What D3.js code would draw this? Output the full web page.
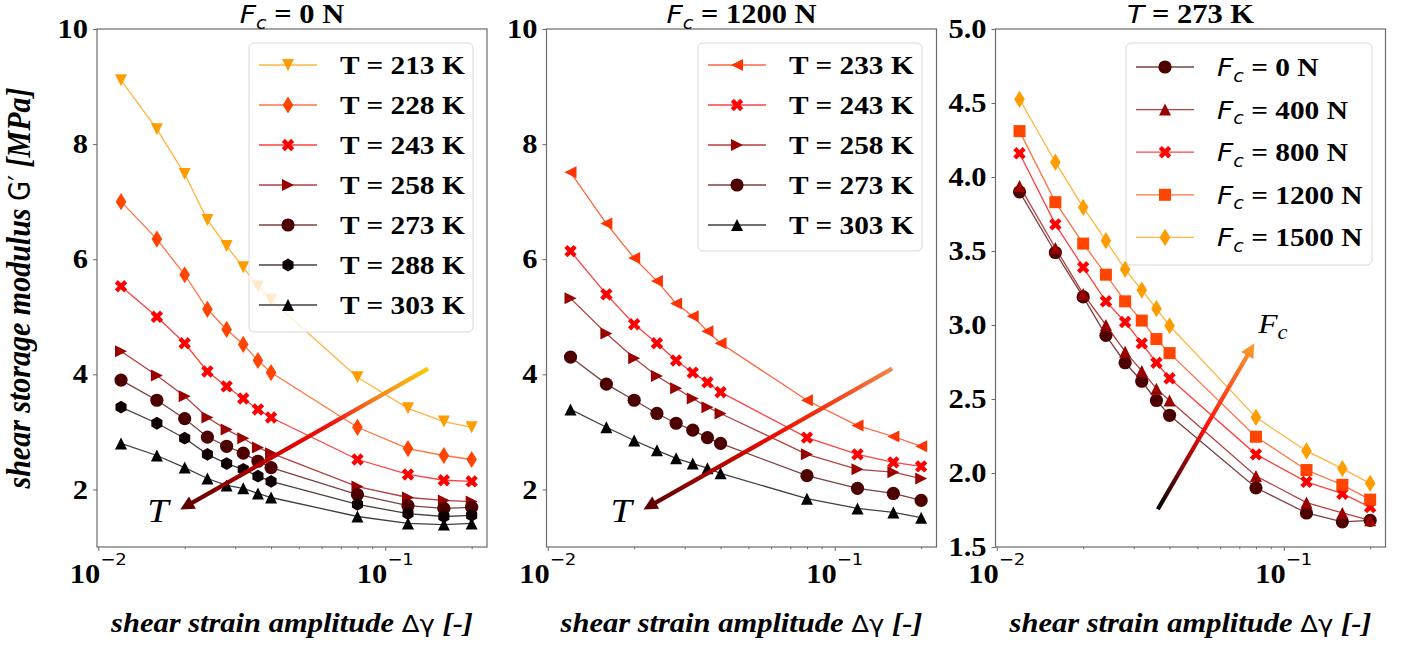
<!DOCTYPE html>
<html><head><meta charset="utf-8">
<script src="https://cdn.jsdelivr.net/npm/d3@7"></script>
<style>body{margin:0;background:#fff}svg{display:block}</style>
</head><body><svg id="chart" width="1408" height="649"></svg>
<script>
// ---------------- DATA ----------------
const strain = [0.012, 0.016, 0.02, 0.024, 0.028, 0.032, 0.036, 0.04, 0.08, 0.12, 0.16, 0.2];

// Panel 1: Fc = 0 N (G' in MPa)
const p1_T213 = [9.11, 8.26, 7.48, 6.68, 6.23, 5.86, 5.53, 5.29, 3.95, 3.41, 3.18, 3.08];
const p1_T228 = [7.00, 6.35, 5.73, 5.13, 4.78, 4.52, 4.24, 4.03, 3.08, 2.71, 2.59, 2.52];
const p1_T243 = [5.53, 5.00, 4.54, 4.05, 3.79, 3.58, 3.39, 3.25, 2.52, 2.26, 2.16, 2.14];
const p1_T258 = [4.40, 3.98, 3.62, 3.25, 3.04, 2.89, 2.73, 2.63, 2.05, 1.86, 1.81, 1.79];
const p1_T273 = [3.90, 3.55, 3.23, 2.91, 2.75, 2.63, 2.49, 2.38, 1.91, 1.72, 1.67, 1.69];
const p1_T288 = [3.43, 3.15, 2.89, 2.61, 2.45, 2.35, 2.23, 2.14, 1.74, 1.58, 1.53, 1.55];
const p1_T303 = [2.80, 2.59, 2.38, 2.19, 2.07, 2.02, 1.93, 1.86, 1.53, 1.41, 1.39, 1.41];
const p1_labels = ["T = 213 K", "T = 228 K", "T = 243 K", "T = 258 K", "T = 273 K", "T = 288 K", "T = 303 K"];

// Panel 2: Fc = 1200 N
const p2_T233 = [7.51, 6.62, 6.02, 5.62, 5.23, 5.01, 4.75, 4.54, 3.55, 3.11, 2.92, 2.75];
const p2_T243 = [6.14, 5.39, 4.87, 4.54, 4.24, 4.03, 3.86, 3.69, 2.90, 2.61, 2.47, 2.40];
const p2_T258 = [5.32, 4.71, 4.28, 3.97, 3.76, 3.58, 3.43, 3.32, 2.61, 2.35, 2.30, 2.19];
const p2_T273 = [4.30, 3.83, 3.55, 3.32, 3.15, 3.03, 2.90, 2.80, 2.24, 2.02, 1.93, 1.81];
const p2_T303 = [3.39, 3.08, 2.85, 2.68, 2.54, 2.45, 2.37, 2.28, 1.84, 1.67, 1.60, 1.51];
const p2_labels = ["T = 233 K", "T = 243 K", "T = 258 K", "T = 273 K", "T = 303 K"];

// Panel 3: T = 273 K
const p3_F0    = [3.90, 3.49, 3.19, 2.93, 2.745, 2.62, 2.49, 2.39, 1.90, 1.73, 1.67, 1.68];
const p3_F400  = [3.94, 3.52, 3.21, 3.00, 2.82, 2.69, 2.57, 2.49, 1.98, 1.80, 1.73, 1.68];
const p3_F800  = [4.16, 3.68, 3.39, 3.16, 3.02, 2.876, 2.745, 2.64, 2.126, 1.94, 1.86, 1.77];
const p3_F1200 = [4.31, 3.83, 3.55, 3.34, 3.16, 3.03, 2.905, 2.81, 2.245, 2.02, 1.92, 1.82];
const p3_F1500 = [4.525, 4.10, 3.795, 3.57, 3.376, 3.236, 3.11, 2.995, 2.376, 2.149, 2.03, 1.93];
const p3_labels = ["0 N", "400 N", "800 N", "1200 N", "1500 N"];

const yTicks12 = [2, 4, 6, 8, 10];
const yTicks3 = [1.5, 2.0, 2.5, 3.0, 3.5, 4.0, 4.5, 5.0];
const xMajorTicks = [0.01, 0.1];
const xMajorExp = ["\u22122", "\u22121"];
const xMinorTicks = [0.02, 0.03, 0.04, 0.05, 0.06, 0.07, 0.08, 0.09, 0.2];
const titles = ["0 N", "1200 N", "273 K"];

// ---------------- LAYOUT / STYLE ----------------
const svg = d3.select("#chart");
const SERIF = "'Liberation Serif','Times New Roman',serif";
const SANS = "'DejaVu Sans',sans-serif";
const SX = 1.13; // horizontal stretch of the glyphs in the original figure
const TOP = 29, PW = 390, PH = 518;
const LEFTS = [97, 546.5, 995.5];
const xDomain = [0.009896, 0.2262];
const C = {orange:"#ff9c00", orangered:"#ff4500", red:"#ff0000", red2:"#ff3300", dred:"#9a0000", maroon:"#4d0000", nblack:"#0e0000", black:"#000000"};

function stext(parent, x, y, anchor) {
  return parent.append("text").attr("transform", `translate(${x},${y}) scale(${SX},1)`)
    .attr("text-anchor", anchor || "start");
}

function markerPath(type) {
  const r = 6;
  switch (type) {
    case "circle": { const a = 6.6; return `M${-a},0A${a},${a} 0 1,0 ${a},0A${a},${a} 0 1,0 ${-a},0Z`; }
    case "triDown": return `M${-r},${-r}L${r},${-r}L0,${r}Z`;
    case "triUp": return `M0,${-r}L${r},${r}L${-r},${r}Z`;
    case "triRight": return `M${r},0L${-r},${-r}L${-r},${r}Z`;
    case "triLeft": return `M${-r},0L${r},${-r}L${r},${r}Z`;
    case "thinDiamond": return `M0,-8.6L5.3,0L0,8.6L-5.3,0Z`;
    case "square": return `M-6,-6H6V6H-6Z`;
    case "hexagon": {
      const pts = d3.range(6).map(i => { const a = -Math.PI/2 + i*Math.PI/3; return [6.4*Math.cos(a), 6.4*Math.sin(a)]; });
      return "M" + pts.map(p => p.join(",")).join("L") + "Z";
    }
    case "xFilled": {
      const k = 12.4/4;
      const v = [[-1,-2],[0,-1],[1,-2],[2,-1],[1,0],[2,1],[1,2],[0,1],[-1,2],[-2,1],[-1,0],[-2,-1]];
      return "M" + v.map(p => [p[0]*k, p[1]*k].join(",")).join("L") + "Z";
    }
  }
}

function addFc(textSel, size, subSize, family) {
  textSel.append("tspan").attr("font-family", family).attr("font-style", "italic").attr("font-size", size).text("F");
  textSel.append("tspan").attr("font-family", family).attr("font-style", "italic").attr("font-size", subSize).attr("dy", size*0.22).text("c");
}

const panels = [
  {
    title: "Fc", titleVal: titles[0], yDomain: [1, 10], yTicks: yTicks12, yFmt: d3.format("d"),
    series: [
      {v: p1_T213, c: C.orange, m: "triDown", l: p1_labels[0]},
      {v: p1_T228, c: C.orangered, m: "thinDiamond", l: p1_labels[1]},
      {v: p1_T243, c: C.red, m: "xFilled", l: p1_labels[2]},
      {v: p1_T258, c: C.dred, m: "triRight", l: p1_labels[3]},
      {v: p1_T273, c: C.maroon, m: "circle", l: p1_labels[4]},
      {v: p1_T288, c: C.nblack, m: "hexagon", l: p1_labels[5]},
      {v: p1_T303, c: C.black, m: "triUp", l: p1_labels[6]}
    ],
    legend: {x: 249, y: 43, w: 224, h: 289, row0: 22, dy: 40, fc: false},
    arrow: {head: [0.0193, 1.65], tail: [0.1410, 4.10], stops: [["0%","#560000"],["45%","#e00000"],["62%","#f01810"],["80%","#f08a20"],["100%","#ffc800"]]},
    label: {text: "T", at: [0.01614, 1.426]}
  },
  {
    title: "Fc", titleVal: titles[1], yDomain: [1, 10], yTicks: yTicks12, yFmt: d3.format("d"),
    series: [
      {v: p2_T233, c: C.red2, m: "triLeft", l: p2_labels[0]},
      {v: p2_T243, c: C.red, m: "xFilled", l: p2_labels[1]},
      {v: p2_T258, c: C.dred, m: "triRight", l: p2_labels[2]},
      {v: p2_T273, c: C.maroon, m: "circle", l: p2_labels[3]},
      {v: p2_T303, c: C.black, m: "triUp", l: p2_labels[4]}
    ],
    legend: {x: 698, y: 43, w: 224, h: 208, row0: 22, dy: 40, fc: false},
    arrow: {head: [0.02155, 1.65], tail: [0.1585, 4.10], stops: [["0%","#560000"],["50%","#e80a00"],["70%","#f03010"],["100%","#f08848"]]},
    label: {text: "T", at: [0.0180, 1.426]}
  },
  {
    title: "T", titleVal: titles[2], yDomain: [1.5, 5.0], yTicks: yTicks3, yFmt: d3.format(".1f"),
    series: [
      {v: p3_F0, c: C.maroon, m: "circle", l: p3_labels[0]},
      {v: p3_F400, c: C.dred, m: "triUp", l: p3_labels[1]},
      {v: p3_F800, c: C.red, m: "xFilled", l: p3_labels[2]},
      {v: p3_F1200, c: C.orangered, m: "square", l: p3_labels[3]},
      {v: p3_F1500, c: C.orange, m: "thinDiamond", l: p3_labels[4]}
    ],
    legend: {x: 1126, y: 43, w: 246, h: 222, row0: 24, dy: 42.6, fc: true},
    arrow: {tail: [0.0364, 1.755], head: [0.0790, 2.876], stops: [["0%","#f5a030"],["50%","#ff1010"],["100%","#000000"]]},
    label: {text: "Fc", at: [0.0815, 2.946]}
  }
];

const defs = svg.append("defs");

panels.forEach((P, pi) => {
  const left = LEFTS[pi];
  const g = svg.append("g").attr("transform", `translate(${left},${TOP})`);
  const x = d3.scaleLog().domain(xDomain).range([0, PW]);
  const y = d3.scaleLinear().domain(P.yDomain).range([PH, 0]);

  // series
  P.series.forEach(s => {
    const pts = strain.map((d, i) => [d, s.v[i]]);
    g.append("path").datum(pts)
      .attr("d", d3.line().x(d => x(d[0])).y(d => y(d[1])))
      .attr("fill", "none").attr("stroke", s.c).attr("stroke-width", 1.3).attr("stroke-opacity", 0.75);
    g.append("g").selectAll("path").data(pts).join("path")
      .attr("transform", d => `translate(${x(d[0])},${y(d[1])})`)
      .attr("d", markerPath(s.m)).attr("fill", s.c);
  });

  // arrow
  const A = P.arrow;
  const hx = x(A.head[0]), hy = y(A.head[1]), tx = x(A.tail[0]), ty = y(A.tail[1]);
  const gid = "arrGrad" + pi;
  const grad = defs.append("linearGradient").attr("id", gid).attr("gradientUnits", "userSpaceOnUse")
    .attr("x1", hx + left).attr("y1", hy + TOP).attr("x2", tx + left).attr("y2", ty + TOP);
  A.stops.forEach(st => grad.append("stop").attr("offset", st[0]).attr("stop-color", st[1]));
  const len = Math.hypot(tx - hx, ty - hy), ux = (tx - hx) / len, uy = (ty - hy) / len;
  const hl = 14, hw = 7;
  const bx = hx + ux * hl, by = hy + uy * hl;
  const ag = svg.append("g");
  ag.append("line").attr("x1", tx + left).attr("y1", ty + TOP).attr("x2", bx - ux + left).attr("y2", by - uy + TOP)
    .attr("stroke", `url(#${gid})`).attr("stroke-width", 4.2);
  ag.append("path").attr("d", `M${hx+left},${hy+TOP}L${bx - uy*hw + left},${by + ux*hw + TOP}L${bx + uy*hw + left},${by - ux*hw + TOP}Z`)
    .attr("fill", `url(#${gid})`);

  // arrow label
  if (P.label.text === "T") {
    stext(g, x(P.label.at[0]), y(P.label.at[1]), "middle")
      .attr("font-family", SERIF).attr("font-style", "italic").attr("font-size", 34).text("T");
  } else {
    addFc(stext(g, x(P.label.at[0]), y(P.label.at[1])), 28, 20, SERIF);
  }

  // frame
  g.append("rect").attr("width", PW).attr("height", PH).attr("fill", "none").attr("stroke", "#6a6a6a").attr("stroke-width", 1.2);

  // y axis
  const ya = g.append("g").call(d3.axisLeft(y).tickValues(P.yTicks).tickFormat(P.yFmt).tickSize(4).tickPadding(5));
  ya.select(".domain").remove();
  ya.selectAll("line").attr("stroke", "#6a6a6a");
  ya.selectAll("text").attr("font-family", SERIF).attr("font-weight", "bold").attr("font-size", 27).attr("fill", "#000")
    .attr("x", -9 / SX).attr("transform", `scale(${SX},1)`);

  // x axis
  const xa = g.append("g").attr("transform", `translate(0,${PH})`)
    .call(d3.axisBottom(x).tickValues(xMajorTicks).tickFormat("").tickSize(4));
  xa.select(".domain").remove();
  xa.selectAll("line").attr("stroke", "#6a6a6a");
  xa.selectAll("text").remove();
  const xm = g.append("g").attr("transform", `translate(0,${PH})`)
    .call(d3.axisBottom(x).tickValues(xMinorTicks).tickFormat("").tickSize(2.2));
  xm.select(".domain").remove();
  xm.selectAll("line").attr("stroke", "#6a6a6a");
  xMajorTicks.forEach((t, i) => {
    const tt = stext(g, x(t), PH + 36, "middle");
    tt.append("tspan").attr("font-family", SERIF).attr("font-weight", "bold").attr("font-size", 27).text("10");
    tt.append("tspan").attr("font-family", SANS).attr("font-size", 16).attr("dy", -18).text(xMajorExp[i]);
  });

  // x label
  const xl = stext(svg, left + PW / 2, 632, "middle");
  xl.append("tspan").attr("font-family", SERIF).attr("font-weight", "bold").attr("font-style", "italic").attr("font-size", 27).text("shear strain amplitude ");
  xl.append("tspan").attr("font-family", SANS).attr("font-size", 23).text("\u0394\u03b3");
  xl.append("tspan").attr("font-family", SERIF).attr("font-weight", "bold").attr("font-style", "italic").attr("font-size", 27).text(" [-]");

  // title
  const tl = stext(svg, left + PW / 2, 23, "middle");
  if (P.title === "Fc") {
    addFc(tl, 25, 17, SANS);
    tl.append("tspan").attr("font-family", SERIF).attr("font-weight", "bold").attr("font-size", 27).attr("dy", -25*0.22).text(" = " + P.titleVal);
  } else {
    tl.append("tspan").attr("font-family", SANS).attr("font-style", "italic").attr("font-size", 25).text("T");
    tl.append("tspan").attr("font-family", SERIF).attr("font-weight", "bold").attr("font-size", 27).text(" = " + P.titleVal);
  }

  // legend
  const L = P.legend;
  const lg = svg.append("g");
  lg.append("rect").attr("x", L.x).attr("y", L.y).attr("width", L.w).attr("height", L.h).attr("rx", 5)
    .attr("fill", "#fff").attr("fill-opacity", 0.8).attr("stroke", "#d8d8d8").attr("stroke-width", 1);
  P.series.forEach((s, i) => {
    const cy = L.y + L.row0 + i * L.dy;
    const lx0 = L.x + 10;
    lg.append("line").attr("x1", lx0).attr("x2", lx0 + 58).attr("y1", cy).attr("y2", cy)
      .attr("stroke", s.c).attr("stroke-width", 1.3).attr("stroke-opacity", 0.75);
    lg.append("path").attr("transform", `translate(${lx0 + 29},${cy})`).attr("d", markerPath(s.m)).attr("fill", s.c);
    const tx2 = stext(lg, L.x + 91, cy + 9);
    if (L.fc) {
      addFc(tx2, 25, 17, SANS);
      tx2.append("tspan").attr("font-family", SERIF).attr("font-weight", "bold").attr("font-size", 26).attr("dy", -25*0.22).text(" = " + s.l);
    } else {
      tx2.attr("font-family", SERIF).attr("font-weight", "bold").attr("font-size", 26).text(s.l);
    }
  });
});

// y label
const yl = svg.append("text").attr("transform", `translate(30,288) rotate(-90) scale(1,${SX})`).attr("text-anchor", "middle");
yl.append("tspan").attr("font-family", SERIF).attr("font-weight", "bold").attr("font-style", "italic").attr("font-size", 30).text("shear storage modulus ");
yl.append("tspan").attr("font-family", SANS).attr("font-size", 26).text("G\u2032");
yl.append("tspan").attr("font-family", SERIF).attr("font-weight", "bold").attr("font-style", "italic").attr("font-size", 30).text(" [MPa]");
</script>
</body></html>
